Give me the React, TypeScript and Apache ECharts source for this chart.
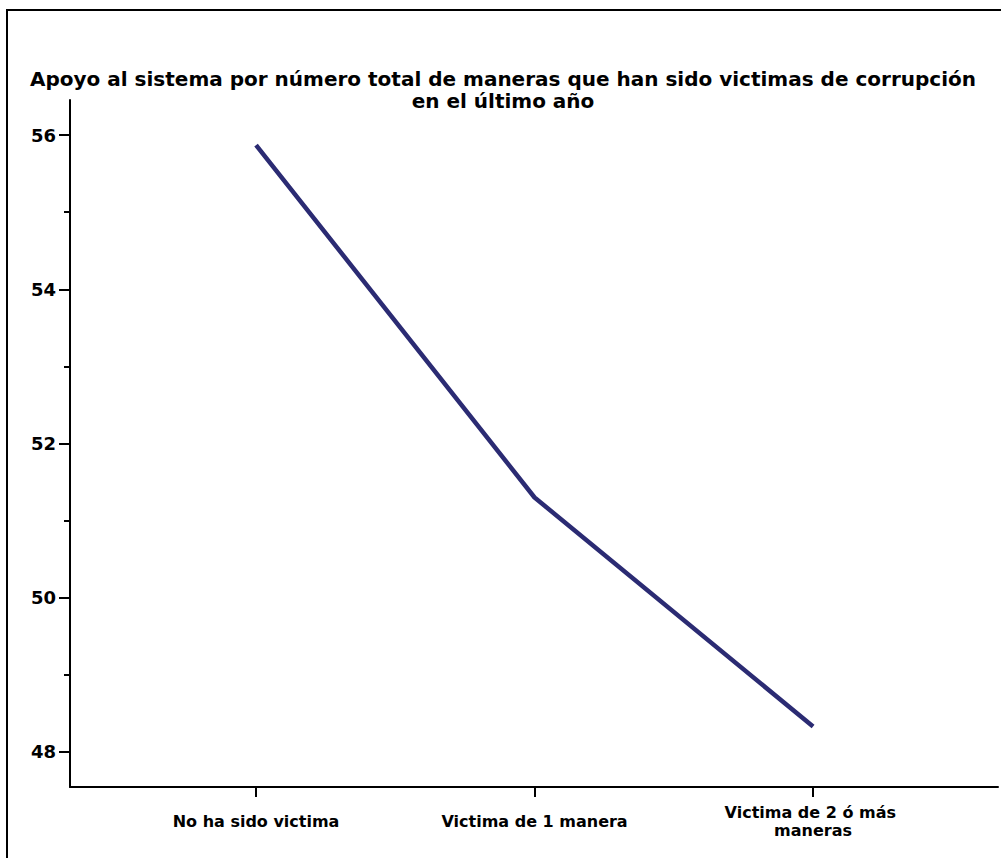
import React, { useEffect, useRef } from "react";
import * as echarts from "echarts";

const titleText = "Apoyo al sistema por número total de maneras que han sido victimas de corrupción\nen el último año";
const categories = ["No ha sido victima", "Victima de 1 manera", "Victima de 2 ó más maneras"];
const values = [55.87, 51.3, 48.33];
const majorTicks = [48, 50, 52, 54, 56];
const minorTicks = [49, 51, 53, 55];

export default function App() {
  const ref = useRef<HTMLDivElement>(null);
  useEffect(() => {
    const chart = echarts.init(ref.current!, null, { renderer: "svg" });
    const font = "'DejaVu Sans', Verdana, sans-serif";
    chart.setOption({
      animation: false,
      backgroundColor: "#ffffff",
      title: {
        text: titleText,
        left: "center",
        top: 68,
        padding: 0,
        textStyle: { fontFamily: font, fontWeight: "bold", fontSize: 20, color: "#000", lineHeight: 22 },
      },
      graphic: [
        {
          type: "polyline",
          shape: { points: [[7, 858], [7, 10], [1001, 10]] },
          style: { stroke: "#000", lineWidth: 2, fill: null },
        },
      ],
      grid: { left: 70, right: 8, top: 100, bottom: 71, containLabel: false },
      xAxis: {
        type: "value",
        min: -0.668,
        max: 2.664,
        axisLine: { show: true, onZero: false, lineStyle: { color: "#000", width: 2 } },
        splitLine: { show: false },
        axisTick: { show: true, customValues: [0, 1, 2], length: 10, lineStyle: { color: "#000", width: 2 } },
        axisLabel: {
          show: true,
          customValues: [0, 1, 2],
          formatter: (v: number) => categories[Math.round(v)] ?? "",
          margin: 34,
          width: 200,
          overflow: "break",
          verticalAlign: "middle",
          lineHeight: 18,
          fontFamily: font,
          fontWeight: "bold",
          fontSize: 16,
          color: "#000",
        },
      },
      yAxis: [
        {
          type: "value",
          min: 47.546,
          max: 56.454,
          axisLine: { show: true, onZero: false, lineStyle: { color: "#000", width: 2 } },
          splitLine: { show: false },
          axisTick: { show: true, customValues: majorTicks, length: 11, lineStyle: { color: "#000", width: 2 } },
          axisLabel: {
            show: true,
            customValues: majorTicks,
            margin: 14,
            fontFamily: font,
            fontWeight: "bold",
            fontSize: 18,
            color: "#000",
          },
        },
        {
          type: "value",
          position: "left",
          min: 47.546,
          max: 56.454,
          axisLine: { show: false, onZero: false },
          splitLine: { show: false },
          axisTick: { show: true, customValues: minorTicks, length: 6, lineStyle: { color: "#000", width: 2 } },
          axisLabel: { show: false },
        },
      ],
      series: [
        {
          type: "line",
          data: values.map((v, i) => [i, v]),
          symbol: "none",
          lineStyle: { color: "#2b2b73", width: 4.5 },
        },
      ],
    });
    return () => chart.dispose();
  }, []);
  return <div ref={ref} style={{ position: "absolute", left: 0, top: 0, width: 1006, height: 858 }} />;
}
